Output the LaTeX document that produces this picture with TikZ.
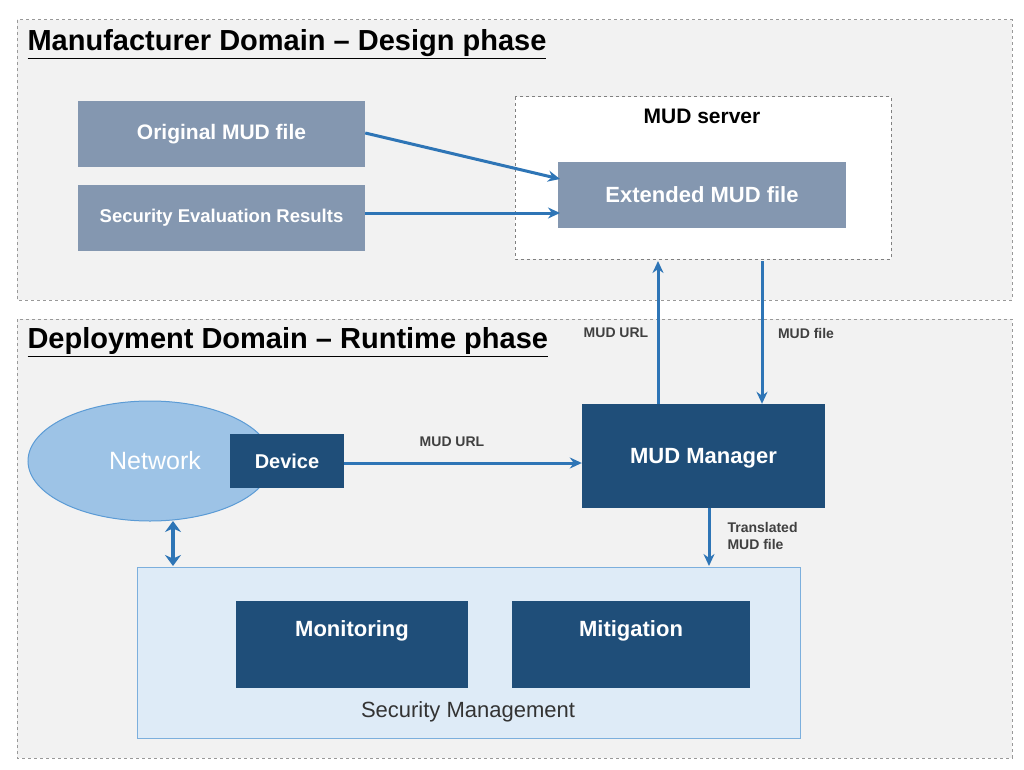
\documentclass[tikz,border=0pt]{standalone}
\usepackage{fontspec}
\setmainfont{Liberation Sans}
\usetikzlibrary{arrows.meta,shapes.geometric}
\definecolor{panel}{HTML}{F2F2F2}
\definecolor{light}{HTML}{8497B0}
\definecolor{dark}{HTML}{1F4E79}
\definecolor{arr}{HTML}{2E75B6}
\definecolor{netf}{HTML}{9DC3E6}
\definecolor{netb}{HTML}{5B9BD5}
\definecolor{secf}{HTML}{DEEBF7}
\begin{document}
\begin{tikzpicture}[x=1pt,y=-1pt,
 panelbox/.style={draw=gray!80,dashed,fill=panel,line width=1pt},
 lbox/.style={fill=light,text=white,font=\bfseries\fontsize{21}{24}\selectfont},
 dbox/.style={fill=dark,text=white,font=\bfseries\fontsize{22}{26}\selectfont},
 title/.style={anchor=west,font=\bfseries\fontsize{29}{34}\selectfont},
 ar/.style={draw=arr,line width=3pt,-{Stealth[length=12pt,width=11pt]}},
 lab/.style={font=\bfseries\fontsize{14}{17}\selectfont,text=black!75}]
\useasboundingbox (0,0) rectangle (1024,770);
\fill[white] (0,0) rectangle (1024,770);
\draw[panelbox] (17,20) rectangle (1012,300);
\node[title] at (24,44) {\underline{Manufacturer Domain – Design phase}};
\node[lbox,minimum width=287pt,minimum height=66pt] (orig) at (221.5,134) {Original MUD file};
\node[lbox,minimum width=287pt,minimum height=66pt,font=\bfseries\fontsize{18.5}{22}\selectfont] (sec) at (221.5,218) {Security Evaluation Results};
\draw[dashed,draw=gray,fill=white,line width=1pt] (515,97) rectangle (891,259);
\node[font=\bfseries\fontsize{21}{24}\selectfont] (srv) at (702,116) {MUD server};
\node[lbox,minimum width=288pt,minimum height=66pt,font=\bfseries\fontsize{22}{26}\selectfont] (ext) at (702,195) {Extended MUD file};
\coordinate (extin1) at (560,179);
\coordinate (extin2) at (560,213);
\draw[ar] (orig.east |- 0,133) -- (extin1);
\draw[ar] (sec.east |- 0,213) -- (extin2);

\draw[panelbox] (17,319) rectangle (1012,758);
\node[title] at (24,342) {\underline{Deployment Domain – Runtime phase}};
\node[dbox,minimum width=243pt,minimum height=104pt] (mgr) at (703.5,456) {};
\node[dbox] at (703.5,458) {MUD Manager};
\coordinate (srvb1) at (658,261);
\coordinate (srvb2) at (762,261);
\draw[ar] (mgr.north -| 658,0) -- (srvb1);
\draw[ar] (srvb2) -- (mgr.north -| 762,0);
\node[lab] at (616,333) {MUD URL};
\node[lab] at (806,333) {MUD file};
\node[ellipse,fill=netf,draw=netb,line width=1pt,minimum width=244pt,minimum height=120pt] (net) at (150,461) {};
\node[text=white,font=\fontsize{25}{28}\selectfont] at (155,461) {Network};
\node[dbox,minimum width=114pt,minimum height=54pt,font=\bfseries\fontsize{20}{24}\selectfont] (dev) at (287,461) {Device};
\draw[ar] (dev.east |- 0,463) -- (mgr.west |- 0,463);
\node[lab] at (452,442) {MUD URL};
\draw[fill=secf,draw=netb!80,line width=1pt] (137,567) rectangle (800,738);
\coordinate (secm) at (709,566);
\coordinate (secmn) at (173,566);
\draw[ar] (mgr.south -| 709,0) -- (secm);
\node[lab,align=left,anchor=west] at (724,536) {Translated\\MUD file};
\draw[draw=arr,line width=4.5pt,{Stealth[length=11pt,width=16pt]}-{Stealth[length=11pt,width=16pt]}] (173,521) -- (secmn);
\node[dbox,minimum width=232pt,minimum height=87pt,anchor=north west] (mon) at (236,601) {};
\node[dbox] at (352,631) {Monitoring};
\node[dbox,minimum width=238pt,minimum height=87pt,anchor=north west] (mit) at (512,601) {};
\node[dbox] at (631,631) {Mitigation};
\node[font=\fontsize{22}{26}\selectfont,text=black!80] at (468,712) {Security Management};
\end{tikzpicture}
\end{document}
